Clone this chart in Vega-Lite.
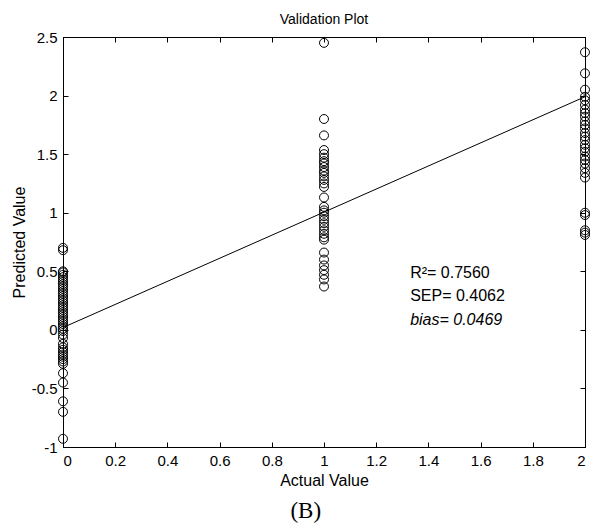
{
  "$schema": "https://vega.github.io/schema/vega-lite/v6.json",
  "width": 522,
  "height": 410,
  "autosize": {"type": "none"},
  "padding": {"left": 63, "top": 37, "right": 5, "bottom": 79},
  "background": "white",
  "config": {
    "font": "Liberation Sans",
    "view": {"stroke": "black", "strokeWidth": 1},
    "axis": {
      "grid": false,
      "domainColor": "black",
      "tickColor": "black",
      "labelColor": "black",
      "titleColor": "black",
      "labelFontSize": 15,
      "titleFontSize": 16,
      "titleFontWeight": "normal",
      "labelFont": "Liberation Sans",
      "titleFont": "Liberation Sans",
      "tickSize": -5
    }
  },
  "title": {"text": "Validation Plot", "fontSize": 14, "fontWeight": "normal", "font": "Liberation Sans", "color": "black", "offset": 3},
  "datasets": {
    "points": [
      {"actual": 0, "predicted": 0.70}, {"actual": 0, "predicted": 0.68}, {"actual": 0, "predicted": 0.50}, {"actual": 0, "predicted": 0.49},
      {"actual": 0, "predicted": 0.47}, {"actual": 0, "predicted": 0.45}, {"actual": 0, "predicted": 0.43}, {"actual": 0, "predicted": 0.41},
      {"actual": 0, "predicted": 0.39}, {"actual": 0, "predicted": 0.37}, {"actual": 0, "predicted": 0.35}, {"actual": 0, "predicted": 0.33},
      {"actual": 0, "predicted": 0.31}, {"actual": 0, "predicted": 0.29}, {"actual": 0, "predicted": 0.27}, {"actual": 0, "predicted": 0.25},
      {"actual": 0, "predicted": 0.23}, {"actual": 0, "predicted": 0.21}, {"actual": 0, "predicted": 0.19}, {"actual": 0, "predicted": 0.17},
      {"actual": 0, "predicted": 0.15}, {"actual": 0, "predicted": 0.13}, {"actual": 0, "predicted": 0.11}, {"actual": 0, "predicted": 0.09},
      {"actual": 0, "predicted": 0.07}, {"actual": 0, "predicted": 0.05}, {"actual": 0, "predicted": 0.03}, {"actual": 0, "predicted": 0.01},
      {"actual": 0, "predicted": -0.01}, {"actual": 0, "predicted": -0.04}, {"actual": 0, "predicted": -0.07}, {"actual": 0, "predicted": -0.12},
      {"actual": 0, "predicted": -0.15}, {"actual": 0, "predicted": -0.17}, {"actual": 0, "predicted": -0.19}, {"actual": 0, "predicted": -0.21},
      {"actual": 0, "predicted": -0.23}, {"actual": 0, "predicted": -0.25}, {"actual": 0, "predicted": -0.27}, {"actual": 0, "predicted": -0.29},
      {"actual": 0, "predicted": -0.37}, {"actual": 0, "predicted": -0.45}, {"actual": 0, "predicted": -0.61}, {"actual": 0, "predicted": -0.70},
      {"actual": 0, "predicted": -0.93},
      {"actual": 1, "predicted": 2.45}, {"actual": 1, "predicted": 1.80}, {"actual": 1, "predicted": 1.66}, {"actual": 1, "predicted": 1.535},
      {"actual": 1, "predicted": 1.50}, {"actual": 1, "predicted": 1.47}, {"actual": 1, "predicted": 1.44}, {"actual": 1, "predicted": 1.42},
      {"actual": 1, "predicted": 1.39}, {"actual": 1, "predicted": 1.36}, {"actual": 1, "predicted": 1.34}, {"actual": 1, "predicted": 1.31},
      {"actual": 1, "predicted": 1.28}, {"actual": 1, "predicted": 1.25}, {"actual": 1, "predicted": 1.22}, {"actual": 1, "predicted": 1.13},
      {"actual": 1, "predicted": 1.05}, {"actual": 1, "predicted": 1.02}, {"actual": 1, "predicted": 1.00}, {"actual": 1, "predicted": 0.97},
      {"actual": 1, "predicted": 0.94}, {"actual": 1, "predicted": 0.91}, {"actual": 1, "predicted": 0.88}, {"actual": 1, "predicted": 0.85},
      {"actual": 1, "predicted": 0.82}, {"actual": 1, "predicted": 0.79}, {"actual": 1, "predicted": 0.77}, {"actual": 1, "predicted": 0.66},
      {"actual": 1, "predicted": 0.60}, {"actual": 1, "predicted": 0.55}, {"actual": 1, "predicted": 0.51}, {"actual": 1, "predicted": 0.47},
      {"actual": 1, "predicted": 0.43}, {"actual": 1, "predicted": 0.37},
      {"actual": 2, "predicted": 2.37}, {"actual": 2, "predicted": 2.19}, {"actual": 2, "predicted": 2.05}, {"actual": 2, "predicted": 1.99},
      {"actual": 2, "predicted": 1.96}, {"actual": 2, "predicted": 1.92}, {"actual": 2, "predicted": 1.88}, {"actual": 2, "predicted": 1.85},
      {"actual": 2, "predicted": 1.82}, {"actual": 2, "predicted": 1.78}, {"actual": 2, "predicted": 1.75}, {"actual": 2, "predicted": 1.72},
      {"actual": 2, "predicted": 1.68}, {"actual": 2, "predicted": 1.65}, {"actual": 2, "predicted": 1.62}, {"actual": 2, "predicted": 1.58},
      {"actual": 2, "predicted": 1.55}, {"actual": 2, "predicted": 1.52}, {"actual": 2, "predicted": 1.48}, {"actual": 2, "predicted": 1.45},
      {"actual": 2, "predicted": 1.42}, {"actual": 2, "predicted": 1.38}, {"actual": 2, "predicted": 1.34}, {"actual": 2, "predicted": 1.30},
      {"actual": 2, "predicted": 1.00}, {"actual": 2, "predicted": 0.98}, {"actual": 2, "predicted": 0.85}, {"actual": 2, "predicted": 0.83},
      {"actual": 2, "predicted": 0.81}
    ],
    "fit": [
      {"actual": 0, "predicted": 0.02},
      {"actual": 2, "predicted": 1.99}
    ],
    "one": [{}]
  },
  "layer": [
    {
      "data": {"name": "points"},
      "mark": {"type": "point", "shape": "circle", "filled": false, "stroke": "black", "strokeWidth": 1, "size": 80, "opacity": 1},
      "encoding": {
        "x": {"field": "actual", "type": "quantitative", "scale": {"domain": [0, 2], "nice": false, "zero": false},
              "axis": {"title": "Actual Value", "values": [0, 0.2, 0.4, 0.6, 0.8, 1, 1.2, 1.4, 1.6, 1.8, 2], "labelExpr": "datum.value", "labelPadding": 11, "titlePadding": 4}},
        "y": {"field": "predicted", "type": "quantitative", "scale": {"domain": [-1, 2.5], "nice": false, "zero": false},
              "axis": {"title": "Predicted Value", "values": [-1, -0.5, 0, 0.5, 1, 1.5, 2, 2.5], "labelExpr": "datum.value", "labelPadding": 11, "titlePadding": 4}}
      }
    },
    {
      "data": {"name": "fit"},
      "mark": {"type": "line", "color": "black", "strokeWidth": 1},
      "encoding": {
        "x": {"field": "actual", "type": "quantitative", "axis": {"orient": "top", "title": null, "labels": false, "values": [0, 0.2, 0.4, 0.6, 0.8, 1, 1.2, 1.4, 1.6, 1.8, 2]}},
        "y": {"field": "predicted", "type": "quantitative", "axis": {"orient": "right", "title": null, "labels": false, "values": [-1, -0.5, 0, 0.5, 1, 1.5, 2, 2.5]}}
      }
    },
    {
      "data": {"name": "one"},
      "mark": {"type": "text", "align": "left", "baseline": "middle", "fontSize": 16, "font": "Liberation Sans", "color": "black"},
      "encoding": {"x": {"datum": 1.33, "type": "quantitative", "axis": null}, "y": {"datum": 0.485, "type": "quantitative", "axis": null}, "text": {"value": "R²= 0.7560"}}
    },
    {
      "data": {"name": "one"},
      "mark": {"type": "text", "align": "left", "baseline": "middle", "fontSize": 16, "font": "Liberation Sans", "color": "black"},
      "encoding": {"x": {"datum": 1.33, "type": "quantitative", "axis": null}, "y": {"datum": 0.289, "type": "quantitative", "axis": null}, "text": {"value": "SEP= 0.4062"}}
    },
    {
      "data": {"name": "one"},
      "mark": {"type": "text", "align": "left", "baseline": "middle", "fontSize": 16, "font": "Liberation Sans", "fontStyle": "italic", "color": "black"},
      "encoding": {"x": {"datum": 1.33, "type": "quantitative", "axis": null}, "y": {"datum": 0.084, "type": "quantitative", "axis": null}, "text": {"value": "bias=  0.0469"}}
    },
    {
      "data": {"name": "one"},
      "mark": {"type": "text", "align": "center", "baseline": "middle", "fontSize": 23, "font": "Liberation Serif", "color": "black"},
      "encoding": {"x": {"datum": 0.93, "type": "quantitative", "axis": null}, "y": {"datum": -1.545, "type": "quantitative", "axis": null}, "text": {"value": "(B)"}}
    }
  ],
  "resolve": {"axis": {"x": "independent", "y": "independent"}}
}
